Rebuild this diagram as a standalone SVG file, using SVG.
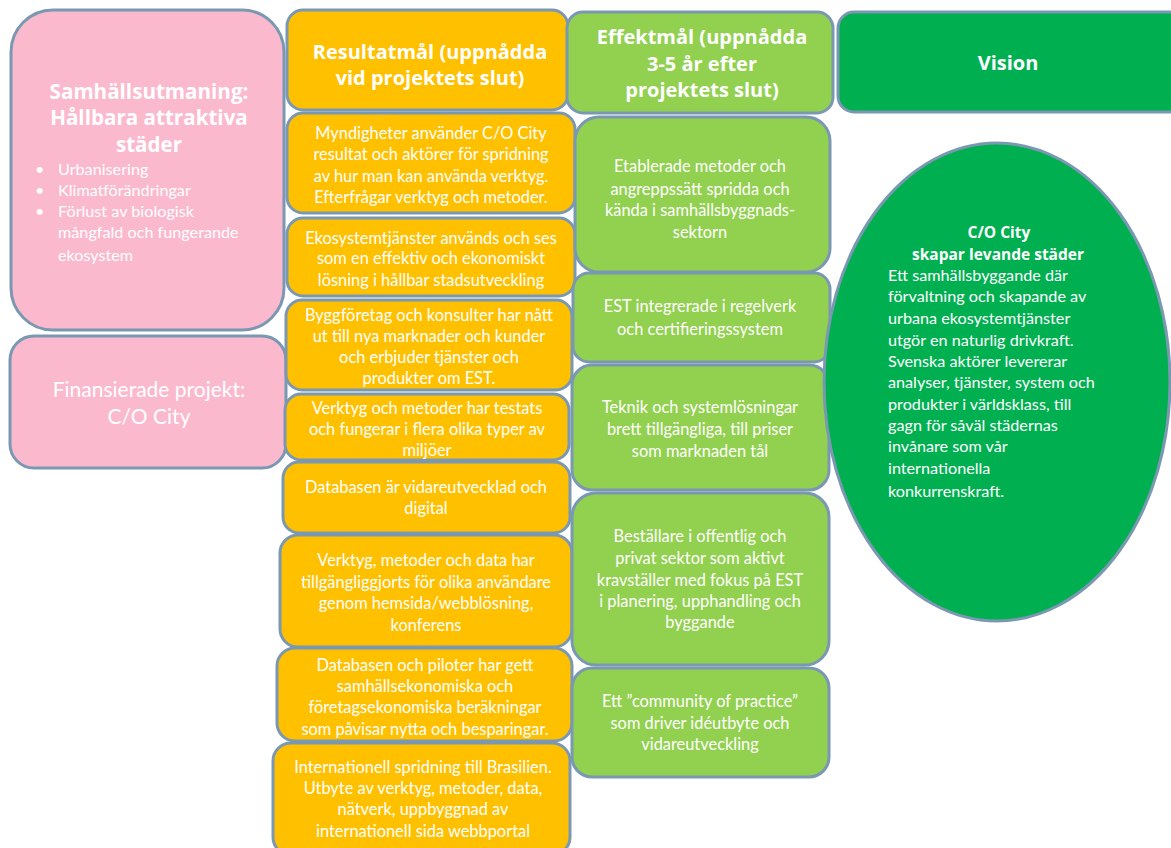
<svg xmlns="http://www.w3.org/2000/svg" width="1171" height="848" viewBox="0 0 1171 848">
<style>
.box{stroke:#7B98B2;stroke-width:3}
.pink{fill:#FBB9CE}
.or{fill:#FFC000}
.lg{fill:#92D050}
.dg{fill:#00B050}
text{fill:#fff;font-family:Lato,"Open Sans","Liberation Sans",sans-serif}
.t{font-size:16.4px;text-anchor:middle}
.h{font-family:"Open Sans","Liberation Sans",sans-serif;font-size:20px;font-weight:bold;text-anchor:middle}
.l{font-size:16.2px}
</style>
<rect width="1171" height="848" fill="#fff"/>
<g id="challenge">
<rect class="box pink" x="11" y="10" width="273" height="320" rx="42"/>
<text class="h" x="149" y="99" style="font-size:20.6px">Samhällsutmaning:</text>
<text class="h" x="149" y="125" style="font-size:20.6px">Hållbara attraktiva</text>
<text class="h" x="149" y="152" style="font-size:20.6px">städer</text>
<text class="l" x="35" y="175">•</text><text class="l" x="58" y="175">Urbanisering</text>
<text class="l" x="35" y="196">•</text><text class="l" x="58" y="196">Klimatförändringar</text>
<text class="l" x="35" y="217">•</text><text class="l" x="58" y="217">Förlust av biologisk</text>
<text class="l" x="58" y="238">mångfald och fungerande</text>
<text class="l" x="58" y="261">ekosystem</text>
</g>
<g id="funded">
<rect class="box pink" x="10" y="336" width="276" height="132" rx="24"/>
<text x="149" y="397" style="font-size:21px;text-anchor:middle">Finansierade projekt:</text>
<text x="149" y="424" style="font-size:21px;text-anchor:middle">C/O City</text>
</g>
<g id="result-header">
<rect class="box or" x="287" y="10" width="281" height="100" rx="16"/>
<text class="h" x="430" y="59">Resultatmål (uppnådda</text>
<text class="h" x="430" y="85">vid projektets slut)</text>
</g>
<g id="r1">
<rect class="box or" x="287" y="113" width="288" height="100" rx="16"/>
<text class="t" x="431" y="139">Myndigheter använder C/O City</text>
<text class="t" x="431" y="160">resultat och aktörer för spridning</text>
<text class="t" x="431" y="182">av hur man kan använda verktyg.</text>
<text class="t" x="431" y="203">Efterfrågar verktyg och metoder.</text>
</g>
<g id="r2">
<rect class="box or" x="287" y="218" width="288" height="78" rx="16"/>
<text class="t" x="431" y="244">Ekosystemtjänster används och ses</text>
<text class="t" x="431" y="264">som en effektiv  och ekonomiskt</text>
<text class="t" x="431" y="286">lösning i hållbar stadsutveckling</text>
</g>
<g id="r3">
<rect class="box or" x="286" y="300" width="286" height="90" rx="16"/>
<text class="t" x="429" y="321">Byggföretag och konsulter har nått</text>
<text class="t" x="429" y="342">ut till nya marknader och kunder</text>
<text class="t" x="429" y="363">och erbjuder tjänster och</text>
<text class="t" x="429" y="384">produkter  om EST.</text>
</g>
<g id="r4">
<rect class="box or" x="285" y="394" width="284" height="66" rx="16"/>
<text class="t" x="427" y="414">Verktyg och metoder  har testats</text>
<text class="t" x="427" y="435">och fungerar  i flera  olika typer av</text>
<text class="t" x="427" y="456">miljöer</text>
</g>
<g id="r5">
<rect class="box or" x="283" y="462" width="287" height="71" rx="16"/>
<text class="t" x="426" y="493">Databasen är vidareutvecklad och</text>
<text class="t" x="426" y="514">digital</text>
</g>
<g id="r6">
<rect class="box or" x="280" y="535" width="292" height="112" rx="18"/>
<text class="t" x="426" y="566">Verktyg, metoder och data har</text>
<text class="t" x="426" y="588">tillgängliggjorts för olika användare</text>
<text class="t" x="426" y="609">genom hemsida/webblösning,</text>
<text class="t" x="426" y="631">konferens</text>
</g>
<g id="r7">
<rect class="box or" x="277" y="648" width="295" height="93" rx="18"/>
<text class="t" x="425" y="671">Databasen och piloter har gett</text>
<text class="t" x="425" y="692">samhällsekonomiska och</text>
<text class="t" x="425" y="713">företagsekonomiska beräkningar</text>
<text class="t" x="425" y="735">som  påvisar nytta och besparingar.</text>
</g>
<g id="r8">
<rect class="box or" x="273" y="743" width="297" height="112" rx="18"/>
<text class="t" x="423" y="773">Internationell spridning till Brasilien.</text>
<text class="t" x="423" y="794">Utbyte av verktyg, metoder, data,</text>
<text class="t" x="423" y="815">nätverk,  uppbyggnad av</text>
<text class="t" x="423" y="837">internationell sida webbportal</text>
</g>
<g id="effect-header">
<rect class="box lg" x="567" y="12" width="266" height="101" rx="16"/>
<text class="h" x="702" y="44">Effektmål (uppnådda</text>
<text class="h" x="702" y="71">3-5 år efter</text>
<text class="h" x="702" y="97">projektets slut)</text>
</g>
<g id="e1">
<rect class="box lg" x="575" y="117" width="255" height="155" rx="24"/>
<text class="t" x="700" y="172">Etablerade metoder och</text>
<text class="t" x="700" y="195">angreppssätt spridda och</text>
<text class="t" x="700" y="216">kända i samhällsbyggnads-</text>
<text class="t" x="700" y="238">sektorn</text>
</g>
<g id="e2">
<rect class="box lg" x="573" y="273" width="257" height="89" rx="16"/>
<text class="t" x="700" y="312">EST integrerade i regelverk</text>
<text class="t" x="700" y="335">och certifieringssystem</text>
</g>
<g id="e3">
<rect class="box lg" x="572" y="365" width="257" height="125" rx="20"/>
<text class="t" x="700" y="413">Teknik och systemlösningar</text>
<text class="t" x="700" y="435">brett tillgängliga, till priser</text>
<text class="t" x="700" y="457">som marknaden tål</text>
</g>
<g id="e4">
<rect class="box lg" x="572" y="493" width="257" height="172" rx="24"/>
<text class="t" x="700" y="542">Beställare i offentlig och</text>
<text class="t" x="700" y="564">privat sektor som aktivt</text>
<text class="t" x="700" y="586">kravställer med fokus på EST</text>
<text class="t" x="700" y="607">i planering, upphandling och</text>
<text class="t" x="700" y="628">byggande</text>
</g>
<g id="e5">
<rect class="box lg" x="572" y="668" width="257" height="109" rx="20"/>
<text class="t" x="700" y="707">Ett ”community of practice”</text>
<text class="t" x="700" y="729">som driver  idéutbyte och</text>
<text class="t" x="700" y="750">vidareutveckling</text>
</g>
<g id="vision-header">
<rect class="box dg" x="838" y="12" width="350" height="100" rx="16"/>
<text class="h" x="1008" y="70">Vision</text>
</g>
<g id="vision">
<ellipse class="box dg" cx="997" cy="382" rx="173" ry="239"/>
<text x="999" y="238" style="font-family:'Open Sans',sans-serif;font-size:15.5px;font-weight:bold;text-anchor:middle">C/O City</text>
<text x="998" y="260" style="font-family:'Open Sans',sans-serif;font-size:15.5px;font-weight:bold;text-anchor:middle">skapar levande städer</text>
<text class="l" x="888" y="281">Ett samhällsbyggande där</text>
<text class="l" x="888" y="302">förvaltning och skapande  av</text>
<text class="l" x="888" y="324">urbana ekosystemtjänster</text>
<text class="l" x="888" y="346">utgör en naturlig drivkraft.</text>
<text class="l" x="888" y="367">Svenska aktörer levererar</text>
<text class="l" x="888" y="388">analyser, tjänster, system och</text>
<text class="l" x="888" y="410">produkter i världsklass, till</text>
<text class="l" x="888" y="431">gagn för såväl städernas</text>
<text class="l" x="888" y="452">invånare som vår</text>
<text class="l" x="888" y="474">internationella</text>
<text class="l" x="888" y="497">konkurrenskraft.</text>
</g>
<g id="connectors"></g>
</svg>
